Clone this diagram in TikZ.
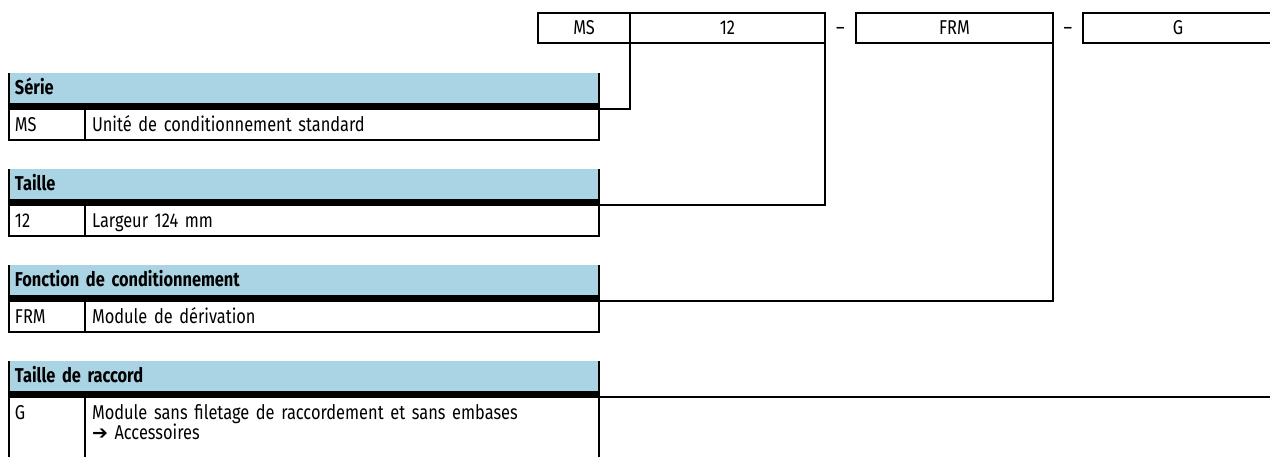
\documentclass[tikz,border=0pt]{standalone}
\usepackage{fontspec}
\setmainfont{Fira Sans}[FakeStretch=0.82,WordSpace=0.75]
\newfontfamily\arrowfont{DejaVu Sans}
\definecolor{hdrblue}{RGB}{170,211,227}
\definecolor{ink}{RGB}{0,0,0}
\newcommand\tabfont{\fontsize{20}{19}\selectfont}
\usetikzlibrary{positioning,calc}
\tikzset{
  rule/.style={ink,line width=1.4pt},
  codebox/.style={draw=ink,line width=1.4pt,minimum height=30pt,inner sep=0pt,outer sep=0pt,
    anchor=north west,text height=13pt,text depth=0pt},
  hdrcell/.style={fill=hdrblue,anchor=north west,text width=578pt,inner xsep=6pt,inner ysep=0pt,
    outer sep=0pt,minimum height=30pt,align=left,font=\tabfont\bfseries,text height=13pt,text depth=0pt},
  keycell/.style={draw=ink,line width=1.4pt,anchor=north west,text width=64pt,inner xsep=6pt,
    inner ysep=0pt,outer sep=0pt,minimum height=31pt,align=left,text height=13pt,text depth=0pt},
  desccell/.style={keycell,text width=500pt,inner xsep=7pt},
}

\begin{document}
\begin{tikzpicture}[x=1pt,y=-1pt,font=\tabfont]
        \useasboundingbox (0,0) rectangle (1270,456);
        % order code
        \node[codebox,minimum width=92pt]  (ms)   at (538,13)  {MS};
        \node[codebox,minimum width=195pt] (size) at (630,13)  {12};
        \node[codebox,minimum width=197pt] (func) at (856,13)  {FRM};
        \node[codebox,minimum width=190pt] (port) at (1083,13) {G};
        \node[text height=13pt,text depth=0pt] (dashA) at ($(size.east)!0.5!(func.west)$) {--};
        \node[text height=13pt,text depth=0pt] (dashB) at ($(func.east)!0.5!(port.west)$) {--};
        % Serie
        \node[hdrcell] (serieHdr) at (9,73) {Série};
        \fill[ink] (serieHdr.south west) rectangle ++(590,6);
        \node[keycell] (serieKey) at (9,109) {MS};
        \node[desccell,right=0pt of serieKey] (serieDesc) {Unité de conditionnement standard};
        \draw[rule] (serieHdr.north west) -- (serieKey.north west) (serieHdr.north east) -- (serieDesc.north east);
        % Taille
        \node[hdrcell] (sizeHdr) at (9,169) {Taille};
        \fill[ink] (sizeHdr.south west) rectangle ++(590,6);
        \node[keycell] (sizeKey) at (9,205) {12};
        \node[desccell,right=0pt of sizeKey] (sizeDesc) {Largeur 124 mm};
        \draw[rule] (sizeHdr.north west) -- (sizeKey.north west) (sizeHdr.north east) -- (sizeDesc.north east);
        % Fonction
        \node[hdrcell] (funcHdr) at (9,265) {Fonction de conditionnement};
        \fill[ink] (funcHdr.south west) rectangle ++(590,6);
        \node[keycell] (funcKey) at (9,301) {FRM};
        \node[desccell,right=0pt of funcKey] (funcDesc) {Module de dérivation};
        \draw[rule] (funcHdr.north west) -- (funcKey.north west) (funcHdr.north east) -- (funcDesc.north east);
        % Raccord
        \node[hdrcell] (portHdr) at (9,361) {Taille de raccord};
        \fill[ink] (portHdr.south west) rectangle ++(590,6);
        \node[keycell,minimum height=62pt,text depth=31pt] (portKey) at (9,397) {G};
        \node[desccell,minimum height=62pt,text depth=31pt,right=0pt of portKey] (portDesc)
          {Module sans filetage de raccordement et sans embases\\{\arrowfont\fontsize{19}{19}\selectfont ➔} Accessoires};
        \draw[rule] (portHdr.north west) -- (portKey.north west) (portHdr.north east) -- (portDesc.north east);
        % links
        \draw[rule] (ms.south east)   |- (serieDesc.north east);
        \draw[rule] (size.south east) |- (sizeDesc.north east);
        \draw[rule] (func.south east) |- (funcDesc.north east);
        \draw[rule] (port.south east) |- (portDesc.north east);
      \end{tikzpicture}
\end{document}
